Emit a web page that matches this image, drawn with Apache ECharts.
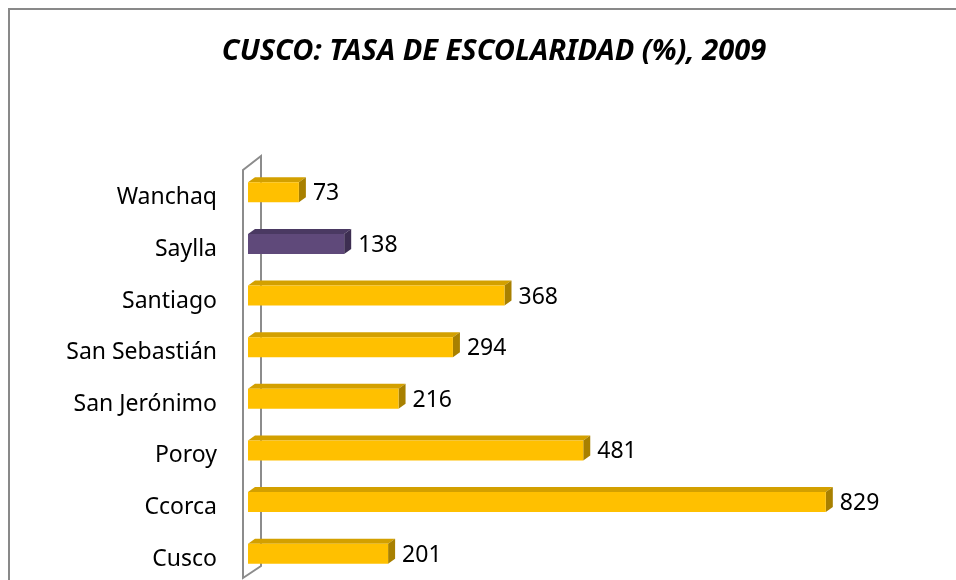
<!DOCTYPE html>
<html>
<head>
<meta charset="utf-8">
<script src="https://cdn.jsdelivr.net/npm/echarts@6/dist/echarts.min.js"></script>
<style>
  html, body { margin: 0; padding: 0; background: #fff; }
  #main { width: 956px; height: 580px; }
</style>
</head>
<body>
<div id="main"></div>
<script>
// distritos (de arriba hacia abajo) y valores
let districts = ['Wanchaq', 'Saylla', 'Santiago', 'San Sebastián', 'San Jerónimo', 'Poroy', 'Ccorca', 'Cusco'];
let values = [73, 138, 368, 294, 216, 481, 829, 201];
let highlight = 'Saylla';

let chart = echarts.init(document.getElementById('main'));

let faces = {
  normal: { front: '#FFC000', top: '#D3A000', side: '#A88000' },
  special: { front: '#5F497A', top: '#4A3962', side: '#3D2E51' }
};

// barra 3D: cara frontal, superior y lateral
function renderBar(params, api) {
  let val = api.value(0);
  let idx = api.value(1);
  let p0 = api.coord([0, idx]);
  let p1 = api.coord([val, idx]);
  let h = 20, dx = 7, dy = 5;
  let yTop = p0[1] - h / 2 + 0.5;
  let yBot = yTop + h;
  let c = districts[idx] === highlight ? faces.special : faces.normal;
  return {
    type: 'group',
    children: [
      { type: 'polygon', shape: { points: [[p0[0], yTop], [p1[0], yTop], [p1[0] + dx, yTop - dy], [p0[0] + dx, yTop - dy]] }, style: { fill: c.top } },
      { type: 'polygon', shape: { points: [[p1[0], yTop], [p1[0] + dx, yTop - dy], [p1[0] + dx, yBot - dy], [p1[0], yBot]] }, style: { fill: c.side } },
      { type: 'rect', shape: { x: p0[0], y: yTop, width: p1[0] - p0[0], height: h }, style: { fill: c.front } },
      { type: 'text', x: p1[0] + dx + 7, y: p0[1] + 2, style: { text: String(val), fill: '#000', font: '23px "Noto Sans"', verticalAlign: 'middle' } }
    ]
  };
}

// pared del eje (efecto 3D)
function renderWall(params, api) {
  let cs = params.coordSys;
  let l = cs.x, t = cs.y, b = cs.y + cs.height;
  return {
    type: 'polygon',
    shape: { points: [[l - 5, t + 4], [l + 13, t - 10], [l + 13, b - 13], [l - 5, b - 1]] },
    style: { fill: 'none', stroke: '#8C8C8C', lineWidth: 2 }
  };
}

let option = {
  animation: false,
  title: {
    text: 'CUSCO: TASA DE ESCOLARIDAD (%), 2009',
    left: 489,
    textAlign: 'center',
    top: 32,
    textStyle: { fontFamily: 'Noto Sans', fontSize: 29, fontWeight: 'bold', fontStyle: 'italic', color: '#000' }
  },
  graphic: [{
    type: 'rect', silent: true, z: -10,
    shape: { x: 9, y: 9, width: 1000, height: 1000 },
    style: { fill: 'none', stroke: '#898989', lineWidth: 2 }
  }],
  grid: { left: 248, right: 11, top: 166, bottom: 1 },
  xAxis: { type: 'value', min: 0, max: 1000, show: false },
  yAxis: {
    type: 'category',
    data: districts,
    inverse: true,
    axisLine: { show: false },
    axisTick: { show: false },
    axisLabel: { margin: 31, verticalAlign: 'top', lineHeight: 12, fontFamily: 'Noto Sans', fontSize: 23, color: '#000' }
  },
  series: [
    { type: 'custom', renderItem: renderWall, data: [[0, 0]], encode: { x: 0, y: 1 }, z: 1, silent: true },
    { type: 'custom', renderItem: renderBar, data: values.map((v, i) => [v, i]), encode: { x: 0, y: 1 }, z: 2 }
  ]
};

chart.setOption(option);
</script>
</body>
</html>
